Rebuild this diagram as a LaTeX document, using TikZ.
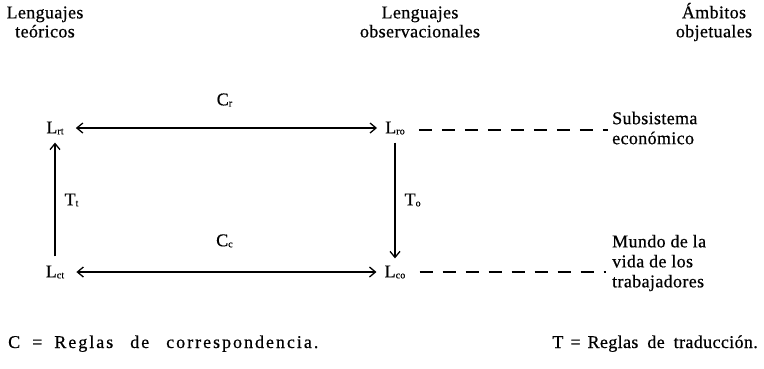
\documentclass[tikz,border=0pt]{standalone}
\usepackage{fontspec}
\setmainfont{Liberation Serif}[FakeBold=0.6,LetterSpace=2]
\usetikzlibrary{arrows.meta}
\tikzset{
  txt/.style={inner sep=0pt, font=\fontsize{18}{19}\selectfont, align=center},
  lbl/.style={inner sep=0pt, font=\fontsize{18}{20}\selectfont},
  arr/.style={line width=1.3pt, -{Straight Barb[length=6pt,width=10pt]}},
  darr/.style={line width=1.3pt, {Straight Barb[length=6pt,width=10pt]}-{Straight Barb[length=6pt,width=10pt]}},
  dashln/.style={line width=1.3pt, dash pattern=on 13pt off 10pt}
}
\newcommand{\Sb}[1]{\raisebox{-1pt}{\fontsize{10}{10}\selectfont #1}}
\begin{document}
\begin{tikzpicture}[x=1pt,y=-1pt]
\useasboundingbox (0,0) rectangle (764,368);
% headers
\node[txt] (h1) at (45,22) {Lenguajes\\teóricos};
\node[txt] (h2) at (420,22) {Lenguajes\\observacionales};
\node[txt] (h3) at (714,22) {Ámbitos\\objetuales};
% L nodes
\node[lbl] (Lrt) at (55,128) {L\Sb{rt}};
\node[lbl] (Lro) at (395,128) {L\Sb{ro}};
\node[lbl] (Lct) at (55,272) {L\Sb{ct}};
\node[lbl] (Lco) at (395,272) {L\Sb{co}};
% arrows
\draw[darr, shorten <=12pt, shorten >=8pt] (Lrt) -- (Lro) node[midway, above=21pt, lbl] (Cr) {C\Sb{r}};
\draw[darr, shorten <=12pt, shorten >=8pt] (Lct) -- (Lco) node[midway, above=24pt, lbl] (Cc) {C\Sb{c}};
\draw[arr, shorten <=9pt, shorten >=8pt] (Lct) -- (Lrt) node[midway, right=9pt, lbl] (Tt) {T\Sb{t}};
\draw[arr, shorten <=8pt, shorten >=7pt] (Lro) -- (Lco) node[midway, right=9pt, lbl] (To) {T\Sb{o}};
% right texts
\node[lbl, anchor=west, align=left] (s1) at (612,128) {Subsistema\\económico};
\node[lbl, anchor=west, align=left] (s2) at (612,263) {Mundo de la\\vida de los\\trabajadores};
\coordinate (e1) at (608,130);
\coordinate (e2) at (606,272);
\draw[dashln] ([xshift=14pt]Lro.east |- e1) -- (e1);
\draw[dashln] ([xshift=14pt]Lco.east |- e2) -- (e2);
% legend
\node[lbl, anchor=base west] (lc) at (8,348) {\addfontfeature{LetterSpace=11}C\hspace{12pt}=\hspace{12pt}Reglas\hspace{17pt}de\hspace{17pt}correspondencia.};
\node[lbl, anchor=base east] (lt) at (758,348) {T\hspace{7pt}=\hspace{7pt}Reglas\hspace{9pt}de\hspace{9pt}traducción.};
\end{tikzpicture}
\end{document}
